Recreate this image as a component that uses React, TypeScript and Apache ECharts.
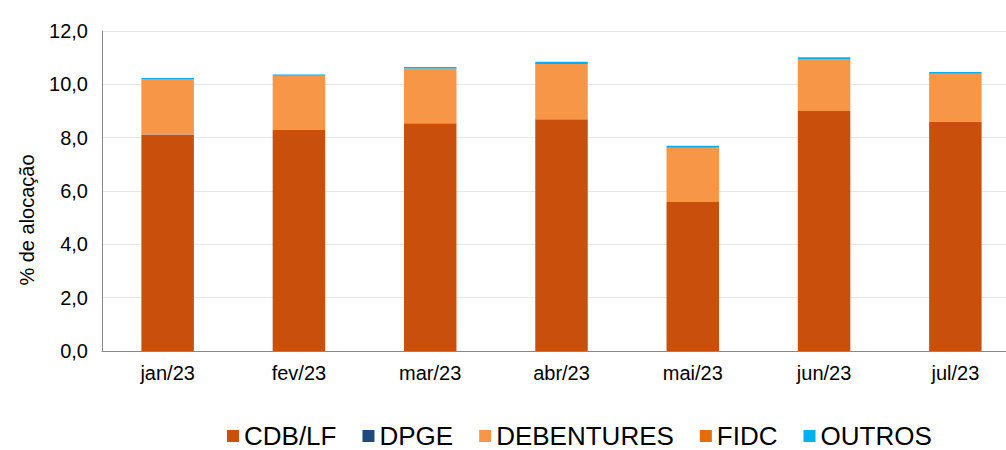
import React, { useEffect, useRef } from "react";
import * as echarts from "echarts";

const categories = ["jan/23", "fev/23", "mar/23", "abr/23", "mai/23", "jun/23", "jul/23"];
const cdbLf = [8.11, 8.3, 8.54, 8.69, 5.59, 9.0, 8.59];
const dpge = [0.01, 0.01, 0.0, 0.0, 0.0, 0.0, 0.01];
const debentures = [2.08, 2.01, 2.05, 2.07, 2.03, 1.95, 1.8];
const fidc = [0.0, 0.0, 0.0, 0.0, 0.0, 0.0, 0.0];
const outros = [0.04, 0.05, 0.06, 0.09, 0.08, 0.07, 0.06];

const FONT = "'Liberation Sans', Arial, sans-serif";

export default function App() {
  const ref = useRef<HTMLDivElement>(null);
  useEffect(() => {
    if (!ref.current) return;
    const chart = echarts.init(ref.current, null, { renderer: "svg" });
    const mk = (name: string, data: number[], color: string) => ({
      name,
      type: "bar",
      stack: "total",
      data,
      barWidth: "40%",
      itemStyle: { color },
      emphasis: { disabled: true },
    });
    chart.setOption({
      animation: false,
      grid: { left: 102, top: 31, width: 919, height: 320, containLabel: false },
      legend: {
        left: 227,
        top: 423,
        padding: 0,
        itemWidth: 12,
        itemHeight: 12,
        itemGap: 26,
        icon: "rect",
        textStyle: { fontFamily: FONT, fontSize: 26, lineHeight: 26, color: "#000" },
        data: ["CDB/LF", "DPGE", "DEBENTURES", "FIDC", "OUTROS"],
      },
      xAxis: {
        type: "category",
        data: categories,
        axisTick: { show: false },
        axisLine: { lineStyle: { color: "#888", width: 1 } },
        axisLabel: { fontFamily: FONT, fontSize: 20, color: "#000", margin: 12 },
      },
      yAxis: {
        type: "value",
        min: 0,
        max: 12,
        interval: 2,
        axisLine: { show: true, lineStyle: { color: "#888", width: 1 } },
        axisTick: { show: false },
        splitLine: { lineStyle: { color: "#e6e6e6", width: 1 } },
        axisLabel: {
          fontFamily: FONT,
          fontSize: 20,
          color: "#000",
          margin: 14,
          formatter: (v: number) => v.toFixed(1).replace(".", ","),
        },
      },
      graphic: [
        {
          type: "text",
          x: 27,
          y: 220,
          rotation: Math.PI / 2,
          style: {
            text: "% de alocação",
            fontFamily: FONT,
            fontSize: 20,
            fill: "#000",
            align: "center",
            verticalAlign: "middle",
          },
        },
      ],
      series: [
        mk("CDB/LF", cdbLf, "#C9500C"),
        mk("DPGE", dpge, "#1F497D"),
        mk("DEBENTURES", debentures, "#F79646"),
        mk("FIDC", fidc, "#E46C0A"),
        mk("OUTROS", outros, "#00B0F0"),
      ],
    });
    return () => chart.dispose();
  }, []);
  return (
    <div style={{ position: "fixed", left: 0, top: 0, width: 1006, height: 450, overflow: "hidden", background: "#fff" }}>
      <div ref={ref} style={{ width: 1040, height: 450 }} />
    </div>
  );
}
